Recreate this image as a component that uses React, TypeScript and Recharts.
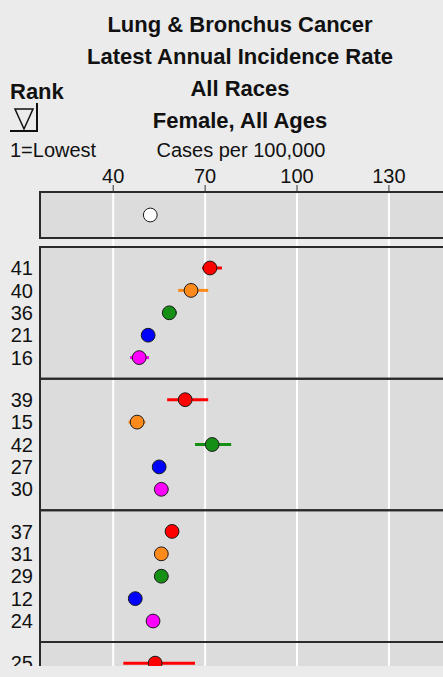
import React from 'react';
import { ScatterChart, Scatter, XAxis, YAxis, ReferenceArea, ReferenceLine, ErrorBar } from 'recharts';

// ---- data ----
const titleLines = ['Lung & Bronchus Cancer', 'Latest Annual Incidence Rate', 'All Races', 'Female, All Ages'];
const unitsLabel = 'Cases per 100,000';
const rankLabel = 'Rank';
const rankNote = '1=Lowest';
const xTicks = [40, 70, 100, 130];
const overallRate = 52.1;
const ranks = [41, 40, 36, 21, 16, 39, 15, 42, 27, 30, 37, 31, 29, 12, 24, 25];
const rates = [71.6, 65.4, 58.3, 51.4, 48.5, 63.5, 47.8, 72.3, 55.0, 55.7, 59.2, 55.7, 55.7, 47.2, 53.0, 53.7];
const lower = [69.0, 61.2, 56.0, 49.8, 45.5, 57.6, 45.0, 66.7, 53.0, 53.5, 57.0, 53.5, 53.5, 45.5, 51.0, 43.3];
const upper = [75.5, 71.0, 60.8, 53.0, 51.7, 71.0, 50.5, 78.5, 57.0, 58.0, 61.5, 58.0, 58.0, 49.0, 55.0, 66.7];
const rowColors = ['#ff0000', '#ff8a1c', '#159015', '#0000ff', '#ff00ff'];

// ---- layout (row units) ----
const GROUP_SIZE = 5;
const GROUP_START = 2.366;
const GROUP_PERIOD = 5.88;
const PANEL_PAD = 0.94;
const TOP_PAD = 1.027;
const Y_MIN = -1.027;
const Y_MAX = 20.134;
const X_DOMAIN: [number, number] = [16.1, 153.2];

const FONT = '"Liberation Sans", Arial, sans-serif';
const PAGE_BG = '#ebebeb';
const PANEL_BG = '#dcdcdc';
const BORDER = '#2a2a2a';

const rows = ranks.map((rank, i) => {
  const g = Math.floor(i / GROUP_SIZE);
  const slot = i % GROUP_SIZE;
  return {
    rank,
    slot,
    group: g,
    x: rates[i],
    y: GROUP_START + g * GROUP_PERIOD + slot,
    err: [rates[i] - lower[i], upper[i] - rates[i]],
  };
});
const groupCount = Math.ceil(ranks.length / GROUP_SIZE);
const panels = [
  { y1: -TOP_PAD, y2: TOP_PAD },
  ...Array.from({ length: groupCount }, (_, g) => ({
    y1: GROUP_START + g * GROUP_PERIOD - PANEL_PAD,
    y2: GROUP_START + g * GROUP_PERIOD + GROUP_SIZE - 1 + PANEL_PAD,
  })),
];
const overall = [{ x: overallRate, y: 0 }];
const rankByY = new Map(rows.map((r) => [r.y.toFixed(3), String(r.rank)]));

const makeDot = (fill: string) => (props: any) => (
  <circle cx={props.cx} cy={props.cy} r={6.9} fill={fill} stroke="#1a1a1a" strokeWidth={1} />
);

export default function App() {
  return (
    <div style={{ position: 'absolute', left: 0, top: 0, width: 443, height: 677, overflow: 'hidden', background: PAGE_BG, fontFamily: FONT }}>
      <div style={{ position: 'absolute', left: 0, top: 0, width: 470, height: 666, overflow: 'hidden' }}>
        <ScatterChart width={470} height={666} margin={{ top: 162, right: 10, bottom: 0, left: 0 }}>
          <XAxis
            type="number"
            dataKey="x"
            orientation="top"
            domain={X_DOMAIN}
            allowDataOverflow
            ticks={xTicks}
            interval={0}
            height={30}
            axisLine={false}
            tickSize={7}
            tickMargin={2}
            tickLine={{ stroke: '#333', strokeWidth: 1 }}
            tick={{ fill: '#111', fontSize: 20, fontFamily: FONT }}
          />
          <YAxis
            type="number"
            dataKey="y"
            reversed
            domain={[Y_MIN, Y_MAX]}
            allowDataOverflow={false}
            width={40}
            ticks={rows.map((r) => r.y)}
            interval={0}
            tickFormatter={(v: number) => rankByY.get(Number(v).toFixed(3)) ?? ''}
            axisLine={false}
            tickLine={false}
            tickSize={0}
            tickMargin={7}
            tick={{ fill: '#111', fontSize: 20, fontFamily: FONT }}
          />
          {panels.map((p, i) => (
            <ReferenceArea key={'bg' + i} x1={X_DOMAIN[0]} x2={X_DOMAIN[1]} y1={p.y1} y2={p.y2} ifOverflow="visible" fill={PANEL_BG} fillOpacity={1} stroke="none" zIndex={100} />
          ))}
          {xTicks.map((t) => (
            <ReferenceLine key={'g' + t} x={t} stroke="#ffffff" strokeWidth={2} ifOverflow="visible" zIndex={200} />
          ))}
          {panels.map((p, i) => (
            <ReferenceArea key={'bd' + i} x1={X_DOMAIN[0]} x2={X_DOMAIN[1]} y1={p.y1} y2={p.y2} ifOverflow="visible" fill="none" fillOpacity={0} stroke={BORDER} strokeWidth={2} zIndex={300} />
          ))}
          {rowColors.map((c, slot) => (
            <Scatter
              key={'s' + slot}
              data={rows.filter((r) => r.slot === slot)}
              isAnimationActive={false}
              shape={makeDot(c)}
            >
              <ErrorBar dataKey="err" direction="x" width={0} stroke={c} strokeWidth={3} />
            </Scatter>
          ))}
          <Scatter data={overall} isAnimationActive={false} shape={makeDot('#ffffff')} />
        </ScatterChart>
      </div>
      <svg width={443} height={200} style={{ position: 'absolute', left: 0, top: 0, pointerEvents: 'none' }}>
        {titleLines.map((t, i) => (
          <text key={t} x={240} y={32 + i * 32} textAnchor="middle" fontFamily={FONT} fontWeight="bold" fontSize={22} fill="#111">
            {t}
          </text>
        ))}
        <text x={10} y={99} fontFamily={FONT} fontWeight="bold" fontSize={22} fill="#111">{rankLabel}</text>
        <polygon points="15,109 33,109 24,129" fill="none" stroke="#111" strokeWidth={1.5} />
        <polyline points="37,103 37,131 10,131" fill="none" stroke="#111" strokeWidth={2} />
        <text x={10} y={157} fontFamily={FONT} fontSize={20} fill="#111">{rankNote}</text>
        <text x={241} y={157} textAnchor="middle" fontFamily={FONT} fontSize={20} fill="#111">{unitsLabel}</text>
      </svg>
    </div>
  );
}
